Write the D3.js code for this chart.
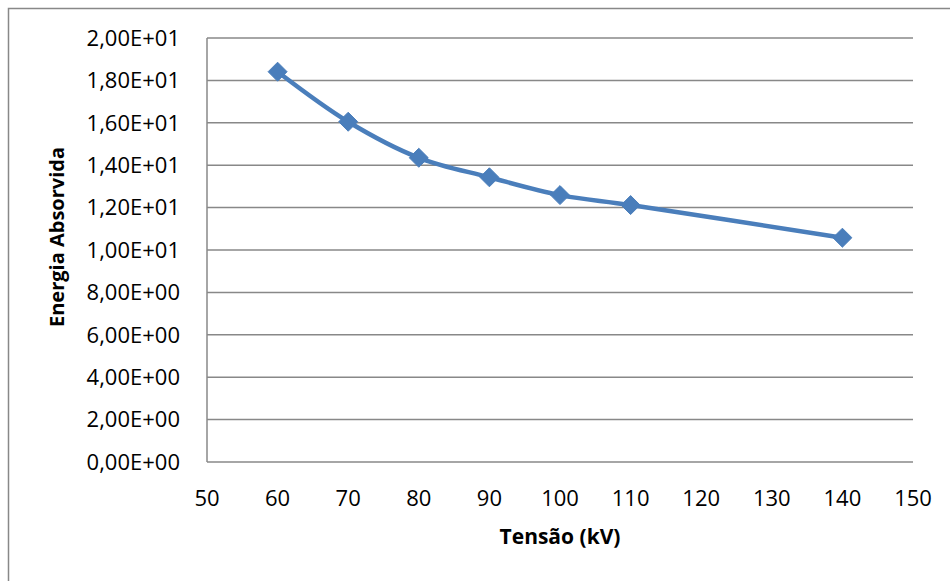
<!DOCTYPE html>
<html>
<head>
<meta charset="utf-8">
<script src="https://cdn.jsdelivr.net/npm/d3@7"></script>
<style>
  body { margin: 0; background: #fff; }
  text { font-family: "Open Sans", sans-serif; fill: #000; }
</style>
</head>
<body>
<div id="chart"></div>
<script>
// data
var tensao = [60, 70, 80, 90, 100, 110, 140];
var energia = [18.41, 16.05, 14.35, 13.43, 12.59, 12.12, 10.58];
var xTicks = [50, 60, 70, 80, 90, 100, 110, 120, 130, 140, 150];
var yTicks = [0, 2, 4, 6, 8, 10, 12, 14, 16, 18, 20];

var W = 950, H = 581;
var margin = {top: 38, right: 37, bottom: 119, left: 207},
    width = W - margin.left - margin.right,
    height = H - margin.top - margin.bottom;

var svg = d3.select("#chart")
  .append("svg")
    .attr("width", W)
    .attr("height", H);

// outer chart border
svg.append("rect")
  .attr("x", 8.5).attr("y", 8.5)
  .attr("width", W).attr("height", H)
  .attr("fill", "none")
  .attr("stroke", "#888")
  .attr("stroke-width", 1.5);

var g = svg.append("g")
  .attr("transform", "translate(" + margin.left + "," + margin.top + ")");

var x = d3.scaleLinear().domain([50, 150]).range([0, width]);
var y = d3.scaleLinear().domain([0, 20]).range([height, 0]);

// format like 1,80E+01
function sci(d) {
  var s = d3.format(".2e")(d).replace(".", ",").toUpperCase();
  return s.replace(/E([+-])(\d)$/, "E$10$2");
}

// gridlines
g.append("g")
  .selectAll("line")
  .data(yTicks)
  .join("line")
    .attr("x1", 0).attr("x2", width)
    .attr("y1", d => y(d)).attr("y2", d => y(d))
    .attr("stroke", "#888")
    .attr("stroke-width", 1.5);

// left axis line
g.append("line")
  .attr("x1", 0).attr("x2", 0)
  .attr("y1", 0).attr("y2", height)
  .attr("stroke", "#888")
  .attr("stroke-width", 1.5);

// y tick labels
g.append("g")
  .selectAll("text")
  .data(yTicks)
  .join("text")
    .attr("x", -27)
    .attr("y", d => y(d))
    .attr("dy", "0.35em")
    .attr("text-anchor", "end")
    .style("font-size", "22px")
    .text(d => sci(d));

// x tick labels
g.append("g")
  .selectAll("text")
  .data(xTicks)
  .join("text")
    .attr("x", d => x(d))
    .attr("y", height + 36)
    .attr("dy", "0.35em")
    .attr("text-anchor", "middle")
    .style("font-size", "22px")
    .text(d => d);

// axis titles
svg.append("text")
  .attr("x", 560).attr("y", 537)
  .attr("dy", "0.35em")
  .attr("text-anchor", "middle")
  .style("font-size", "21px")
  .style("font-weight", "bold")
  .text("Tensão (kV)");

svg.append("text")
  .attr("transform", "translate(57,237) rotate(-90)")
  .attr("dy", "0.35em")
  .attr("text-anchor", "middle")
  .style("font-size", "20px")
  .style("font-weight", "bold")
  .text("Energia Absorvida");

// series
var pts = tensao.map((t, i) => [t, energia[i]]);
var line = d3.line()
  .x(d => x(d[0]))
  .y(d => y(d[1]))
  .curve(d3.curveCatmullRom.alpha(0.5));

g.append("path")
  .datum(pts)
  .attr("fill", "none")
  .attr("stroke", "#4a7ebb")
  .attr("stroke-width", 4.5)
  .attr("d", line);

g.append("g")
  .selectAll("path")
  .data(pts)
  .join("path")
    .attr("transform", d => "translate(" + x(d[0]) + "," + y(d[1]) + ")")
    .attr("d", d3.symbol(d3.symbolDiamond2, 230))
    .attr("fill", "#4a7ebb")
    .attr("stroke", "#4a7ebb")
    .attr("stroke-width", 1);
</script>
</body>
</html>
